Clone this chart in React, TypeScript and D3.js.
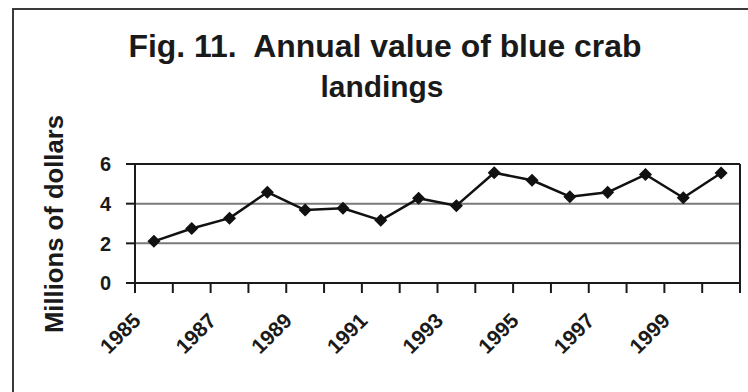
import React from "react";
import * as d3 from "d3";

const years: string[] = ["1985","1986","1987","1988","1989","1990","1991","1992","1993","1994","1995","1996","1997","1998","1999","2000"];
const values: number[] = [2.1, 2.75, 3.27, 4.58, 3.68, 3.77, 3.16, 4.27, 3.9, 5.56, 5.18, 4.35, 4.57, 5.47, 4.3, 5.55];
const yTicks: number[] = [0, 2, 4, 6];
const xLabelYears: string[] = ["1985","1987","1989","1991","1993","1995","1997","1999"];
const titleLines: string[] = ["Fig. 11.  Annual value of blue crab", "landings"];
const yAxisTitle = "Millions of dollars";

const W = 748, H = 392;
const PL = 135, PR = 740, PT = 164, PB = 283;

export default function App() {
  const x = d3.scaleBand<string>().domain(years).range([PL, PR]);
  const y = d3.scaleLinear().domain([0, 6]).range([PB, PT]);
  const cx = (d: string) => (x(d) as number) + x.bandwidth() / 2;
  const line = d3.line<number>().x((_, i) => cx(years[i])).y((v) => y(v));
  const diamond = d3.symbol().type(d3.symbolSquare).size(85)();
  const font = "'Liberation Sans', Arial, sans-serif";
  const tickXs = d3.range(years.length + 1).map((i) => PL + i * x.step());

  return (
    <svg width={W} height={H} style={{ position: "absolute", left: 0, top: 0, background: "#fff" }} fontFamily={font}>
      <rect x={0} y={0} width={W} height={H} fill="#fff" />
      <rect x={13} y={9} width={W + 20} height={H + 20} fill="none" stroke="#3a3a3a" strokeWidth={2} />
      <text x={385} y={57} textAnchor="middle" fontSize={31} fontWeight="bold" fill="#1a1a1a"
        textLength={513} lengthAdjust="spacingAndGlyphs" style={{ whiteSpace: "pre" }}>{titleLines[0]}</text>
      <text x={382} y={97} textAnchor="middle" fontSize={30} fontWeight="bold" fill="#1a1a1a"
        textLength={123} lengthAdjust="spacingAndGlyphs">{titleLines[1]}</text>
      <text transform="translate(63,224) rotate(-90)" textAnchor="middle" fontSize={25} fontWeight="bold" fill="#1a1a1a"
        textLength={218} lengthAdjust="spacingAndGlyphs">{yAxisTitle}</text>
      {yTicks.filter((t) => t > 0 && t < 6).map((t) => (
        <line key={"g" + t} x1={PL} x2={PR} y1={y(t)} y2={y(t)} stroke="#7a7a7a" strokeWidth={2} />
      ))}
      <line x1={PL} x2={PR} y1={y(6)} y2={y(6)} stroke="#1a1a1a" strokeWidth={2} />
      <line x1={PR} x2={PR} y1={PT} y2={PB} stroke="#1a1a1a" strokeWidth={2} />
      <line x1={PL} x2={PL} y1={PT} y2={PB} stroke="#1a1a1a" strokeWidth={2} />
      <line x1={PL - 9} x2={PR} y1={PB} y2={PB} stroke="#1a1a1a" strokeWidth={2} />
      {yTicks.map((t) => (
        <g key={"y" + t}>
          <line x1={PL - 9} x2={PL} y1={y(t)} y2={y(t)} stroke="#1a1a1a" strokeWidth={2} />
          <text x={111} y={y(t)} dy="0.36em" textAnchor="end" fontSize={20} fontWeight="bold" fill="#1a1a1a">{t}</text>
        </g>
      ))}
      {tickXs.map((tx, i) => (
        <line key={"xt" + i} x1={tx} x2={tx} y1={PB} y2={PB + 10} stroke="#1a1a1a" strokeWidth={2} />
      ))}
      {xLabelYears.map((yr) => (
        <text key={"xl" + yr} transform={`translate(${cx(yr) - 12},322) rotate(-45)`} textAnchor="end"
          fontSize={21} fontWeight="bold" fill="#1a1a1a">{yr}</text>
      ))}
      <path d={line(values) as string} fill="none" stroke="#111" strokeWidth={2.5} strokeLinejoin="round" />
      {values.map((v, i) => (
        <path key={"m" + i} d={diamond as string} transform={`translate(${cx(years[i])},${y(v)}) rotate(45)`} fill="#111" />
      ))}
    </svg>
  );
}
